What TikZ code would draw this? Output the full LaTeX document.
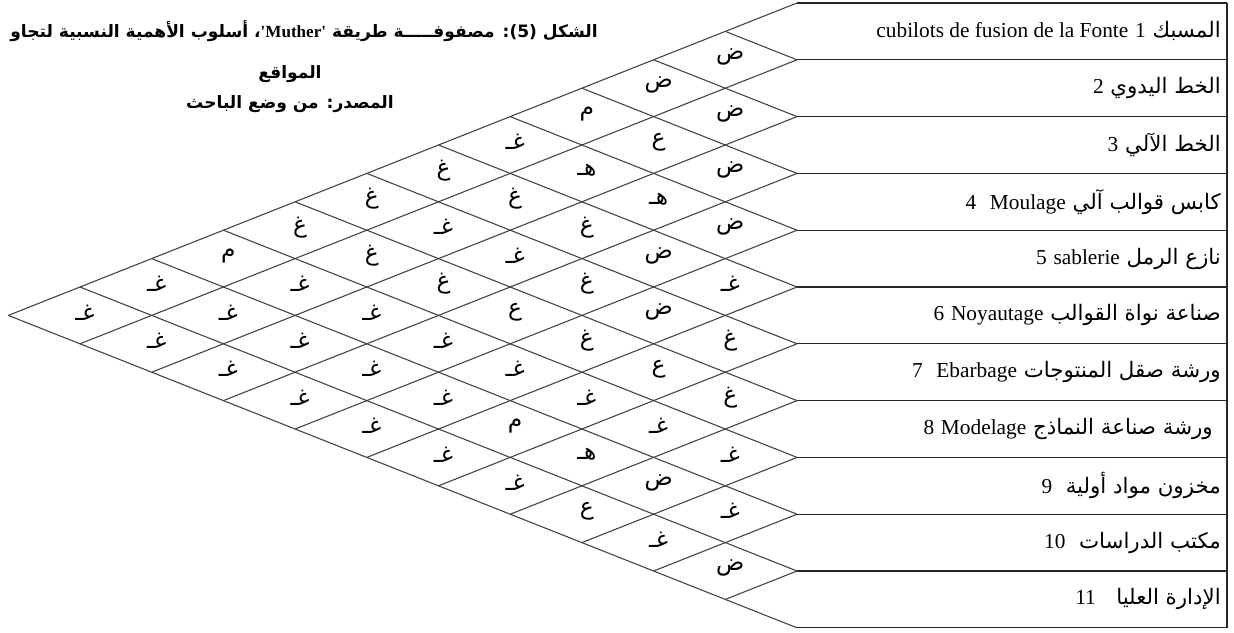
\documentclass[tikz,border=0pt]{standalone}
\usepackage{fontspec}
\setmainfont{Liberation Serif}
\newfontfamily\arabicfont[Script=Arabic]{DejaVu Sans}
\newfontfamily\latinfont{Liberation Serif}
\TeXXeTstate=1
\usetikzlibrary{positioning}
\newcommand{\arb}[1]{{\arabicfont\beginR #1\endR}}
\newcommand{\latn}[1]{{\latinfont\beginL #1\endL}}

\begin{document}
\begin{tikzpicture}[
    x=0.75pt, y=-0.75pt,
    every node/.style={inner sep=0pt, text=black},
    gridline/.style={draw=black!75, line width=0.8pt},
    boxline/.style={draw=black!85, line width=1pt},
    rowlabel/.style={anchor=east, font=\fontsize{16}{18}\selectfont},
    cellmark/.style={font=\fontsize{17.5}{18}\selectfont},
    titletext/.style={font=\bfseries\fontsize{12.8}{15}\selectfont}
]
    \useasboundingbox (0,0) rectangle (1234,632);

    % row boundaries, left tips and right frame
    \foreach \k in {0,...,11} {
        \coordinate (b\k) at (797,{3+56.8*\k});
        \coordinate (e\k) at (1227,{3+56.8*\k});
    }
    \foreach \k in {0,...,11}
        \draw[boxline] (b\k) -- (e\k);
    \draw[boxline] (e0) -- (e11);

    % diagonal grid of the matrix
    \foreach \k in {0,...,10}
        \draw[gridline] (b\k) -- ++({-71.7*(11-\k)},{28.4*(11-\k)});
    \foreach \k in {1,...,11}
        \draw[gridline] (b\k) -- ++({-71.7*\k},{-28.4*\k});

    % activities
    \node[rowlabel] (r1)  at (1221,{3+56.8*0.5})  {\arb{المسبك \latn{1} \latn{cubilots de fusion de la Fonte}}};
    \node[rowlabel] (r2)  at (1221,{3+56.8*1.5})  {\arb{الخط اليدوي \latn{2}}};
    \node[rowlabel] (r3)  at (1221,{3+56.8*2.5})  {\arb{الخط الآلي \latn{3}}};
    \node[rowlabel] (r4)  at (1221,{3+56.8*3.5})  {\arb{كابس قوالب آلي \latn{Moulage}\ \ \latn{4}}};
    \node[rowlabel] (r5)  at (1221,{3+56.8*4.5})  {\arb{نازع الرمل \latn{sablerie} \latn{5}}};
    \node[rowlabel] (r6)  at (1221,{3+56.8*5.5})  {\arb{صناعة نواة القوالب \latn{Noyautage} \latn{6}}};
    \node[rowlabel] (r7)  at (1221,{3+56.8*6.5})  {\arb{ورشة صقل المنتوجات \latn{Ebarbage}\ \ \latn{7}}};
    \node[rowlabel] (r8)  at (1213,{3+56.8*7.5})  {\arb{ورشة صناعة النماذج \latn{Modelage} \latn{8}}};
    \node[rowlabel] (r9)  at (1221,{3+56.8*8.5})  {\arb{مخزون مواد أولية\ \ \latn{9}}};
    \node[rowlabel] (r10) at (1221,{3+56.8*9.5})  {\arb{مكتب الدراسات\ \ \latn{10}}};
    \node[rowlabel] (r11) at (1221,{3+56.8*10.5}) {\arb{الإدارة العليا\ \ \ \latn{11}}};

    % relationship codes, cell (i,j)
    \foreach \i/\j/\m in {
        1/2/ض, 1/3/ض, 1/4/م, 1/5/غـ, 1/6/غ, 1/7/غ, 1/8/غ, 1/9/م, 1/10/غـ, 1/11/غـ,
        2/3/ض, 2/4/ع, 2/5/هـ, 2/6/غ, 2/7/غـ, 2/8/غ, 2/9/غـ, 2/10/غـ, 2/11/غـ,
        3/4/ض, 3/5/هـ, 3/6/غ, 3/7/غـ, 3/8/غ, 3/9/غـ, 3/10/غـ, 3/11/غـ,
        4/5/ض, 4/6/ض, 4/7/غ, 4/8/ع, 4/9/غـ, 4/10/غـ, 4/11/غـ,
        5/6/غـ, 5/7/ض, 5/8/غ, 5/9/غـ, 5/10/غـ, 5/11/غـ,
        6/7/غ, 6/8/ع, 6/9/غـ, 6/10/م, 6/11/غـ,
        7/8/غ, 7/9/غـ, 7/10/هـ, 7/11/غـ,
        8/9/غـ, 8/10/ض, 8/11/ع,
        9/10/غـ, 9/11/غـ,
        10/11/ض}
        \node[cellmark] (c\i-\j) at ({797-71.7*(\j-\i)+5},{3+28.4*(\i+\j-1)-3}) {\arb{\m}};

    % caption
    \node[titletext, anchor=east] (title1) at (598,31)
        {\arb{الشكل \beginL(5)\endL: مصفوفـــــة طريقة \latn{'Muther'}، أسلوب الأهمية النسبية لتجاو}};
    \node[titletext] (title2) at (290,74) {\arb{المواقع}};
    \node[titletext, below=9pt of title2] (title3) {\arb{المصدر: من وضع الباحث}};
\end{tikzpicture}
\end{document}
